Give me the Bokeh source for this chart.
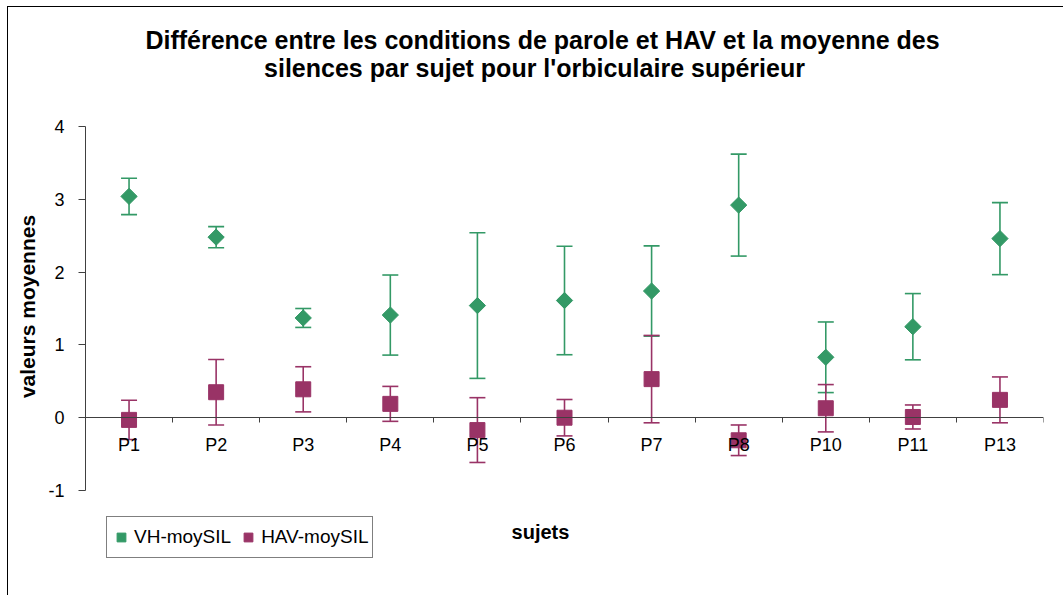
import math
from bokeh.plotting import figure
from bokeh.models import (Range1d, FixedTicker, Whisker, ColumnDataSource, Label,
                          Legend, LegendItem, TeeHead)
from bokeh.embed import file_html
from bokeh.resources import INLINE

# ---- data ----
subjects = ["P1", "P2", "P3", "P4", "P5", "P6", "P7", "P8", "P10", "P11", "P13"]
vh_mean = [3.04, 2.48, 1.37, 1.41, 1.54, 1.61, 1.74, 2.92, 0.83, 1.25, 2.46]
vh_err = [0.25, 0.145, 0.13, 0.55, 1.00, 0.745, 0.62, 0.70, 0.485, 0.455, 0.495]
hav_mean = [-0.03, 0.35, 0.39, 0.19, -0.17, 0.00, 0.53, -0.31, 0.13, 0.01, 0.245]
hav_err = [0.27, 0.45, 0.31, 0.24, 0.445, 0.25, 0.60, 0.21, 0.325, 0.165, 0.315]
y_ticks = [-1, 0, 1, 2, 3, 4]
y_tick_labels = ["-1", "0", "1", "2", "3", "4"]
series_names = ["VH-moySIL", "HAV-moySIL"]
title_lines = ["Différence entre les conditions de parole et HAV et la moyenne des",
               "silences par sujet pour l'orbiculaire supérieur"]
x_title = "sujets"
y_title = "valeurs moyennes"

GREEN = "#339966"
PURPLE = "#993366"
FONT = "Liberation Sans"

n = len(subjects)
xs = list(range(n))

# frame extends over the title and legend area; the axes are bounded to the data span
p = figure(width=1056, height=589, output_backend="svg", toolbar_location=None,
           x_range=Range1d(-0.5, n - 0.5), y_range=Range1d(-2.401, 5.456),
           min_border_left=77, min_border_right=21, min_border_top=13, min_border_bottom=4)
p.styles = {"margin-left": "7px", "margin-top": "6px",
            "border-left": "1px solid black", "border-top": "1px solid black"}
p.outline_line_color = None
p.xgrid.visible = False
p.ygrid.visible = False
p.background_fill_color = "white"
p.border_fill_color = "white"

# x axis at y = 0, labels at category centres, ticks at category boundaries
xa = p.xaxis[0]
xa.fixed_location = 0
xa.ticker = FixedTicker(ticks=xs, minor_ticks=[i - 0.5 for i in range(n + 1)])
xa.major_label_overrides = {i: s for i, s in enumerate(subjects)}
xa.major_tick_in = 0
xa.major_tick_out = 0
xa.minor_tick_in = 0
xa.minor_tick_out = 5
xa.minor_tick_line_color = "#404040"
xa.axis_line_color = "#404040"
xa.major_label_text_font = FONT
xa.major_label_text_font_size = "18px"
xa.major_label_text_color = "black"
xa.major_label_standoff = 12

ya = p.yaxis[0]
ya.bounds = (min(y_ticks), max(y_ticks))
ya.ticker = FixedTicker(ticks=y_ticks)
ya.major_label_overrides = {t: s for t, s in zip(y_ticks, y_tick_labels)}
ya.minor_tick_line_color = None
ya.major_tick_in = 0
ya.major_tick_out = 7
ya.major_tick_line_color = "#404040"
ya.axis_line_color = "#404040"
ya.major_label_text_font = FONT
ya.major_label_text_font_size = "18px"
ya.major_label_text_color = "black"
ya.major_label_standoff = 14
ya.axis_label = y_title
ya.axis_label_text_font = FONT
ya.axis_label_text_font_style = "bold"
ya.axis_label_text_font_size = "21px"
ya.axis_label_text_color = "black"
ya.axis_label_standoff = 6

renderers = []
for means, errs, color, size, angle in [(vh_mean, vh_err, GREEN, 11.5, math.pi / 4),
                                        (hav_mean, hav_err, PURPLE, 15, 0.0)]:
    src = ColumnDataSource(dict(x=xs, y=means,
                                lower=[m - e for m, e in zip(means, errs)],
                                upper=[m + e for m, e in zip(means, errs)]))
    w = Whisker(base="x", lower="lower", upper="upper", source=src,
                line_color=color, line_width=1.6, level="underlay",
                upper_head=TeeHead(size=16, line_color=color, line_width=1.6),
                lower_head=TeeHead(size=16, line_color=color, line_width=1.6))
    p.add_layout(w)
    r = p.scatter("x", "y", source=src, marker="square", size=size, angle=angle,
                  fill_color=color, line_color=color)
    renderers.append(r)

legend = Legend(items=[LegendItem(label=series_names[0], renderers=[renderers[0]]),
                       LegendItem(label=series_names[1], renderers=[renderers[1]])],
                location=(21, 34), orientation="horizontal",
                border_line_color="black", border_line_width=1,
                background_fill_color="white", background_fill_alpha=1,
                label_text_font=FONT, label_text_font_size="19px",
                label_text_color="black",
                glyph_width=22, glyph_height=34, label_standoff=2, spacing=6,
                padding=3, margin=0, label_height=22)
p.add_layout(legend, "center")

for txt, lx, ly in [(title_lines[0], 457, 553), (title_lines[1], 449, 525)]:
    p.add_layout(Label(x=lx, y=ly, x_units="screen", y_units="screen", text=txt,
                       text_align="center", text_baseline="alphabetic", text_font=FONT,
                       text_font_style="bold", text_font_size="25px", text_color="black"))
p.add_layout(Label(x=455, y=61, x_units="screen", y_units="screen", text=x_title,
                   text_align="center", text_baseline="alphabetic", text_font=FONT,
                   text_font_style="bold", text_font_size="20px", text_color="black"))

open("out.html", "w").write(file_html(p, INLINE))
